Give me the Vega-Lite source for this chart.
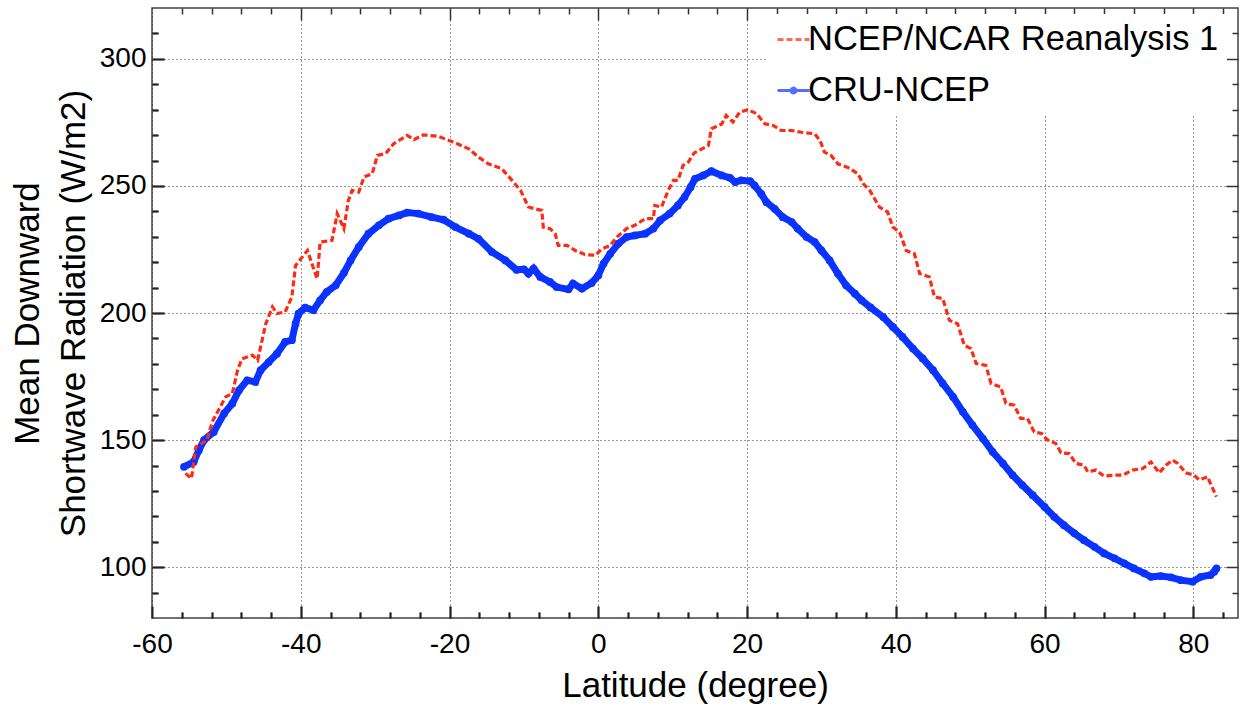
{
  "$schema": "https://vega.github.io/schema/vega-lite/v6.json",
  "width": 1086,
  "height": 610,
  "autosize": "none",
  "padding": {"left": 152, "top": 8, "right": 5, "bottom": 88},
  "background": "white",
  "config": {
    "view": {"stroke": "#444", "strokeWidth": 1.5},
    "font": "Liberation Sans",
    "axis": {"labelFont": "Liberation Sans", "titleFont": "Liberation Sans", "labelColor": "black", "titleColor": "black", "titleFontWeight": "normal", "tickColor": "#222", "tickWidth": 2}
  },
  "datasets": {
    "cru": [
      {"lat": -55.7, "value": 139.5}, {"lat": -54.4, "value": 141.4}, {"lat": -53.7, "value": 146}, {"lat": -53.0, "value": 150},
      {"lat": -51.7, "value": 153.2}, {"lat": -50.3, "value": 160.5}, {"lat": -49.2, "value": 164.4}, {"lat": -48.3, "value": 169.6},
      {"lat": -47.2, "value": 173.5}, {"lat": -46.1, "value": 172.9}, {"lat": -45.4, "value": 177.5}, {"lat": -44.3, "value": 180.7},
      {"lat": -43.2, "value": 184}, {"lat": -42.1, "value": 188.6}, {"lat": -41.2, "value": 189.3}, {"lat": -40.7, "value": 195.8},
      {"lat": -40.3, "value": 199.8}, {"lat": -39.4, "value": 202.1}, {"lat": -38.3, "value": 201.1}, {"lat": -37.4, "value": 205},
      {"lat": -36.5, "value": 208.3}, {"lat": -35.3, "value": 210.9}, {"lat": -34.2, "value": 215.8}, {"lat": -33.3, "value": 220.7},
      {"lat": -32.2, "value": 226}, {"lat": -30.9, "value": 231.2}, {"lat": -29.5, "value": 234.5}, {"lat": -28.2, "value": 237.1},
      {"lat": -26.8, "value": 238.4}, {"lat": -25.7, "value": 239.5}, {"lat": -24.2, "value": 239.1}, {"lat": -22.4, "value": 237.7},
      {"lat": -20.8, "value": 236.7}, {"lat": -19.2, "value": 233.8}, {"lat": -17.4, "value": 231.2}, {"lat": -16.1, "value": 229.2},
      {"lat": -14.3, "value": 224}, {"lat": -12.5, "value": 220.7}, {"lat": -11.0, "value": 217}, {"lat": -10.0, "value": 217.2},
      {"lat": -9.4, "value": 215.5}, {"lat": -8.7, "value": 217.5}, {"lat": -7.8, "value": 214.2}, {"lat": -6.5, "value": 212.2},
      {"lat": -5.6, "value": 210.2}, {"lat": -4.0, "value": 209.3}, {"lat": -3.4, "value": 211.6}, {"lat": -2.2, "value": 209.6},
      {"lat": -0.9, "value": 211.8}, {"lat": 0.0, "value": 214.8}, {"lat": 0.7, "value": 219.4}, {"lat": 1.6, "value": 223.3},
      {"lat": 2.7, "value": 227.3}, {"lat": 3.8, "value": 229.9}, {"lat": 4.9, "value": 230.5}, {"lat": 6.3, "value": 231.2},
      {"lat": 7.4, "value": 233.2}, {"lat": 8.3, "value": 236.4}, {"lat": 9.6, "value": 239.1}, {"lat": 10.7, "value": 242.3},
      {"lat": 11.6, "value": 245.6}, {"lat": 12.4, "value": 249.5}, {"lat": 13.0, "value": 252.8}, {"lat": 14.1, "value": 254.1},
      {"lat": 15.2, "value": 255.8}, {"lat": 16.6, "value": 254.1}, {"lat": 17.7, "value": 253.2}, {"lat": 18.4, "value": 251.5},
      {"lat": 19.2, "value": 252.2}, {"lat": 20.4, "value": 251.9}, {"lat": 21.0, "value": 250.2}, {"lat": 21.9, "value": 246.9},
      {"lat": 22.6, "value": 243.6}, {"lat": 23.7, "value": 241}, {"lat": 24.8, "value": 237.7}, {"lat": 26.0, "value": 235.8},
      {"lat": 26.8, "value": 233.2}, {"lat": 28.0, "value": 229.9}, {"lat": 29.1, "value": 227.9}, {"lat": 30.0, "value": 224.6},
      {"lat": 31.1, "value": 220.7}, {"lat": 32.2, "value": 215.5}, {"lat": 33.3, "value": 210.9}, {"lat": 34.5, "value": 207.6},
      {"lat": 35.4, "value": 205}, {"lat": 36.6, "value": 202.2}, {"lat": 38.3, "value": 198.4}, {"lat": 39.6, "value": 194.5},
      {"lat": 40.9, "value": 190.6}, {"lat": 42.3, "value": 186}, {"lat": 43.6, "value": 182.1}, {"lat": 45.0, "value": 177.5},
      {"lat": 46.3, "value": 172.3}, {"lat": 47.7, "value": 167}, {"lat": 49.0, "value": 161.1}, {"lat": 50.3, "value": 155.9},
      {"lat": 51.7, "value": 150.6}, {"lat": 53.0, "value": 145.4}, {"lat": 54.4, "value": 140.8}, {"lat": 55.7, "value": 136.2},
      {"lat": 57.0, "value": 132.3}, {"lat": 58.4, "value": 128.3}, {"lat": 60.0, "value": 123.7}, {"lat": 61.3, "value": 119.8},
      {"lat": 62.6, "value": 116.5}, {"lat": 64.0, "value": 113.3}, {"lat": 65.3, "value": 110.6}, {"lat": 66.7, "value": 108},
      {"lat": 68.0, "value": 105.4}, {"lat": 69.4, "value": 103.5}, {"lat": 70.7, "value": 101.5}, {"lat": 72.0, "value": 99.5},
      {"lat": 73.4, "value": 97.6}, {"lat": 74.3, "value": 96.2}, {"lat": 75.6, "value": 96.5}, {"lat": 77.0, "value": 96},
      {"lat": 78.3, "value": 94.9}, {"lat": 79.9, "value": 94.3}, {"lat": 81.0, "value": 96.2}, {"lat": 82.3, "value": 96.9},
      {"lat": 82.8, "value": 98.2}, {"lat": 83.1, "value": 99.5}
    ],
    "ncep": [
      {"lat": -55.5, "value": 136.9}, {"lat": -54.7, "value": 134.9}, {"lat": -54.1, "value": 147.3}, {"lat": -52.6, "value": 150},
      {"lat": -51.9, "value": 157.2}, {"lat": -50.1, "value": 167}, {"lat": -49.2, "value": 168.3}, {"lat": -48.5, "value": 177.5},
      {"lat": -47.9, "value": 182}, {"lat": -46.5, "value": 183.4}, {"lat": -45.8, "value": 181.4}, {"lat": -44.7, "value": 195.8},
      {"lat": -43.8, "value": 202.4}, {"lat": -43.2, "value": 199.8}, {"lat": -42.1, "value": 200.4}, {"lat": -41.2, "value": 206.3},
      {"lat": -40.7, "value": 218.7}, {"lat": -39.1, "value": 224.6}, {"lat": -38.5, "value": 219.4}, {"lat": -37.8, "value": 213.5},
      {"lat": -37.4, "value": 227.9}, {"lat": -35.8, "value": 228.6}, {"lat": -35.1, "value": 239.1}, {"lat": -34.2, "value": 233.2},
      {"lat": -33.6, "value": 244.3}, {"lat": -33.1, "value": 248.2}, {"lat": -32.2, "value": 247.6}, {"lat": -31.5, "value": 253.5},
      {"lat": -30.4, "value": 254.8}, {"lat": -29.7, "value": 262}, {"lat": -28.6, "value": 262.7}, {"lat": -27.5, "value": 266.6},
      {"lat": -25.7, "value": 269.9}, {"lat": -24.8, "value": 268.2}, {"lat": -23.5, "value": 270.1}, {"lat": -21.5, "value": 269.5},
      {"lat": -19.7, "value": 267.5}, {"lat": -17.4, "value": 264.6}, {"lat": -16.1, "value": 261.3}, {"lat": -14.8, "value": 258.7},
      {"lat": -13.0, "value": 256.8}, {"lat": -11.6, "value": 252.2}, {"lat": -10.4, "value": 248}, {"lat": -9.4, "value": 241.7},
      {"lat": -8.5, "value": 241}, {"lat": -7.6, "value": 240.4}, {"lat": -7.4, "value": 233.8}, {"lat": -6.5, "value": 233.2},
      {"lat": -5.8, "value": 231.2}, {"lat": -5.4, "value": 226.6}, {"lat": -4.2, "value": 226.6}, {"lat": -3.1, "value": 224.6},
      {"lat": -1.8, "value": 223}, {"lat": -0.4, "value": 222.7}, {"lat": 0.5, "value": 225.3}, {"lat": 1.6, "value": 226.6},
      {"lat": 2.5, "value": 229.9}, {"lat": 3.8, "value": 233.2}, {"lat": 4.9, "value": 234.5}, {"lat": 6.3, "value": 237.1},
      {"lat": 7.4, "value": 237.1}, {"lat": 7.6, "value": 242.3}, {"lat": 8.5, "value": 241.7}, {"lat": 9.4, "value": 248.2},
      {"lat": 10.1, "value": 252.2}, {"lat": 10.7, "value": 252.2}, {"lat": 11.4, "value": 258.1}, {"lat": 12.1, "value": 259.4},
      {"lat": 12.9, "value": 263}, {"lat": 14.8, "value": 265.9}, {"lat": 15.2, "value": 272.5}, {"lat": 16.6, "value": 274.4},
      {"lat": 17.2, "value": 277.7}, {"lat": 18.1, "value": 275.1}, {"lat": 19.0, "value": 279}, {"lat": 20.1, "value": 280},
      {"lat": 21.3, "value": 278.4}, {"lat": 22.4, "value": 274.4}, {"lat": 23.5, "value": 273.8}, {"lat": 24.6, "value": 271.8},
      {"lat": 26.0, "value": 271.8}, {"lat": 27.3, "value": 271.1}, {"lat": 29.1, "value": 270.5}, {"lat": 29.8, "value": 267.9},
      {"lat": 30.4, "value": 263.3}, {"lat": 31.3, "value": 262}, {"lat": 32.2, "value": 258.7}, {"lat": 33.6, "value": 257.2},
      {"lat": 34.9, "value": 254.8}, {"lat": 35.6, "value": 250.9}, {"lat": 36.5, "value": 248.2}, {"lat": 37.8, "value": 241.7},
      {"lat": 38.9, "value": 239.7}, {"lat": 39.6, "value": 233.8}, {"lat": 40.5, "value": 231.8}, {"lat": 41.4, "value": 224.6},
      {"lat": 42.5, "value": 223.3}, {"lat": 43.2, "value": 215.5}, {"lat": 44.5, "value": 214.2}, {"lat": 45.2, "value": 206.3},
      {"lat": 46.3, "value": 205.7}, {"lat": 47.2, "value": 197.1}, {"lat": 48.3, "value": 195.8}, {"lat": 49.2, "value": 187.3},
      {"lat": 50.1, "value": 186}, {"lat": 50.8, "value": 180.1}, {"lat": 52.1, "value": 179.4}, {"lat": 52.8, "value": 172.3},
      {"lat": 54.1, "value": 170.9}, {"lat": 54.8, "value": 164.4}, {"lat": 55.9, "value": 163.7}, {"lat": 56.8, "value": 158.5},
      {"lat": 57.7, "value": 158.5}, {"lat": 58.6, "value": 153.2}, {"lat": 59.6, "value": 152.6}, {"lat": 60.3, "value": 150.2},
      {"lat": 61.5, "value": 148.7}, {"lat": 62.2, "value": 145}, {"lat": 63.3, "value": 144.7}, {"lat": 64.2, "value": 140.8},
      {"lat": 65.3, "value": 140.1}, {"lat": 65.8, "value": 137.5}, {"lat": 66.9, "value": 138.2}, {"lat": 68.0, "value": 135.8},
      {"lat": 69.4, "value": 136.2}, {"lat": 70.5, "value": 136.2}, {"lat": 71.8, "value": 138.2}, {"lat": 73.2, "value": 138.8},
      {"lat": 74.3, "value": 141.4}, {"lat": 75.4, "value": 137.1}, {"lat": 76.3, "value": 140.1}, {"lat": 77.2, "value": 142.1},
      {"lat": 77.9, "value": 140.8}, {"lat": 79.0, "value": 137.1}, {"lat": 80.1, "value": 136.2}, {"lat": 80.8, "value": 134.3},
      {"lat": 81.9, "value": 135.6}, {"lat": 82.3, "value": 132.9}, {"lat": 83.1, "value": 127.7}
    ],
    "series": [
      {"series": "NCEP/NCAR Reanalysis 1"},
      {"series": "CRU-NCEP"}
    ]
  },
  "layer": [
    {
      "data": {"name": "cru"},
      "mark": {"type": "line", "color": "#0a33ff", "strokeWidth": 7},
      "encoding": {
        "x": {"field": "lat", "type": "quantitative", "scale": {"domain": [-60, 86], "nice": false, "zero": false},
          "axis": {"orient": "top", "labels": false, "ticks": false, "domain": false, "title": null,
            "values": [-56,-52,-48,-44,-40,-36,-32,-28,-24,-20,-16,-12,-8,-4,0,4,8,12,16,20,24,28,32,36,40,44,48,52,56,60,64,68,72,76,80,84],
            "grid": true, "gridColor": "#333", "gridWidth": 1.5, "gridOpacity": 1,
            "gridDash": {"condition": {"test": "datum.value % 20 === 0", "value": [12, 586, 12, 1000]}, "value": [6, 598, 6, 1000]}}},
        "y": {"field": "value", "type": "quantitative", "scale": {"domain": [80, 320], "nice": false, "zero": false},
          "axis": {"orient": "right", "labels": false, "ticks": false, "domain": false, "title": null,
            "values": [90,100,110,120,130,140,150,160,170,180,190,200,210,220,230,240,250,260,270,280,290,300,310],
            "grid": true, "gridColor": "#333", "gridWidth": 1.5, "gridOpacity": 1,
            "gridDash": {"condition": {"test": "datum.value % 50 === 0", "value": [12, 1062, 12, 1000]}, "value": [6, 1074, 6, 1000]}}}
      }
    },
    {
      "data": {"name": "cru"},
      "mark": {"type": "point", "filled": true, "color": "#0a33ff", "size": 60, "opacity": 1},
      "encoding": {
        "x": {"field": "lat", "type": "quantitative", "axis": null},
        "y": {"field": "value", "type": "quantitative", "axis": null}
      }
    },
    {
      "data": {"name": "ncep"},
      "mark": {"type": "line", "color": "#ff2a14", "strokeWidth": 3.2, "strokeDash": [6, 3]},
      "encoding": {
        "x": {"field": "lat", "type": "quantitative",
          "axis": {"orient": "bottom", "title": "Latitude (degree)", "titleFontSize": 35, "titlePadding": 4,
            "values": [-60,-56,-52,-48,-44,-40,-36,-32,-28,-24,-20,-16,-12,-8,-4,0,4,8,12,16,20,24,28,32,36,40,44,48,52,56,60,64,68,72,76,80,84],
            "labelExpr": "datum.value % 20 === 0 ? '' + datum.value : ''",
            "labelFontSize": 28, "labelPadding": 24, "labelFlush": false, "labelOverlap": false,
            "domain": false,
            "tickSize": {"condition": {"test": "datum.value % 20 === 0", "value": -12}, "value": -6},
            "grid": true, "gridColor": "#333", "gridWidth": 1, "gridDash": [1, 3],
            "gridOpacity": {"condition": {"test": "datum.value % 20 === 0", "value": 1}, "value": 0}}},
        "y": {"field": "value", "type": "quantitative",
          "axis": {"orient": "left", "title": ["Mean Downward", "Shortwave Radiation (W/m2)"], "titleFontSize": 35, "titleLineHeight": 46, "titlePadding": 8,
            "values": [90,100,110,120,130,140,150,160,170,180,190,200,210,220,230,240,250,260,270,280,290,300,310],
            "labelExpr": "datum.value % 50 === 0 ? '' + datum.value : ''",
            "labelFontSize": 28, "labelPadding": 18, "labelFlush": false, "labelOverlap": false,
            "domain": false,
            "tickSize": {"condition": {"test": "datum.value % 50 === 0", "value": -12}, "value": -6},
            "grid": true, "gridColor": "#333", "gridWidth": 1, "gridDash": [1, 3],
            "gridOpacity": {"condition": {"test": "datum.value % 50 === 0", "value": 1}, "value": 0}}}
      }
    },
    {
      "data": {"name": "series"},
      "transform": [{"filter": "false"}],
      "mark": {"type": "point", "filled": false, "strokeWidth": 3},
      "encoding": {
        "color": {"field": "series", "type": "nominal",
          "scale": {"domain": ["NCEP/NCAR Reanalysis 1", "CRU-NCEP"], "range": ["#ff2a14", "#0a33ff"]},
          "legend": {"orient": "none", "legendX": 616, "legendY": 6, "title": null, "fillColor": "white", "strokeColor": null,
            "padding": 8, "rowPadding": 16, "labelFontSize": 34.5, "labelFont": "Liberation Sans", "labelColor": "black", "labelLimit": 0,
            "labelOffset": -3, "symbolSize": 1024, "symbolStrokeWidth": 3}},
        "shape": {"field": "series", "type": "nominal",
          "scale": {"domain": ["NCEP/NCAR Reanalysis 1", "CRU-NCEP"], "range": ["M-1,0H1", "M-1,0H1M-0.15,0A0.15,0.15 0 1,0 0.15,0A0.15,0.15 0 1,0 -0.15,0"]},
          "legend": {"orient": "none", "legendX": 616, "legendY": 6, "title": null, "fillColor": "white", "strokeColor": null,
            "padding": 8, "rowPadding": 16, "labelFontSize": 34.5, "labelFont": "Liberation Sans", "labelColor": "black", "labelLimit": 0,
            "labelOffset": -3, "symbolSize": 1024, "symbolStrokeWidth": 3}},
        "strokeDash": {"field": "series", "type": "nominal",
          "scale": {"domain": ["NCEP/NCAR Reanalysis 1", "CRU-NCEP"], "range": [[6, 3], [1, 0]]},
          "legend": {"orient": "none", "legendX": 616, "legendY": 6, "title": null, "fillColor": "white", "strokeColor": null,
            "padding": 8, "rowPadding": 16, "labelFontSize": 34.5, "labelFont": "Liberation Sans", "labelColor": "black", "labelLimit": 0,
            "labelOffset": -3, "symbolSize": 1024, "symbolStrokeWidth": 3}}
      }
    }
  ],
  "resolve": {"axis": {"x": "independent", "y": "independent"}}
}
